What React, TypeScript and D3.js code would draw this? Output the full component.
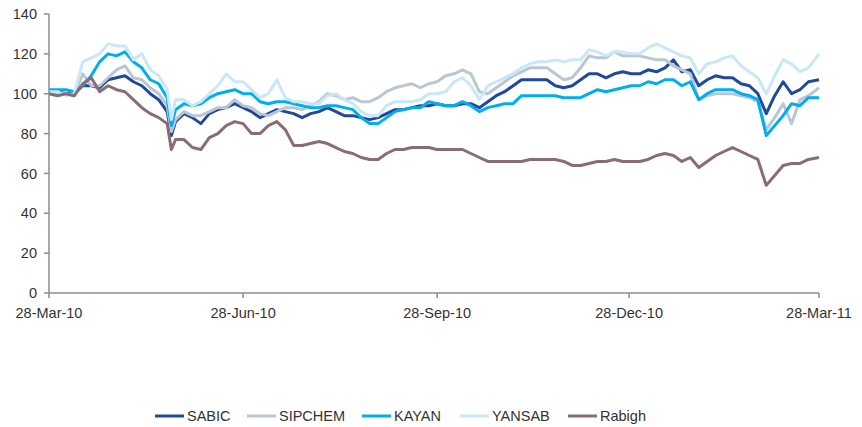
import React from "react";
import * as d3 from "d3";

const dayOffsets = [0,4,8,12,16,20,24,28,32,36,40,44,48,52,56,58,60,
64,68,72,76,80,84,88,92,96,100,104,108,112,116,120,124,
128,132,136,140,144,148,152,156,160,164,168,172,176,180,184,
188,192,196,200,204,208,212,216,220,224,228,232,236,240,244,248,
252,256,260,264,268,272,276,280,284,288,292,296,300,304,308,
312,316,320,324,328,332,336,340,344,348,352,356,360,365];

const SABIC = [101,101,100,100,104,104,103,107,108,109,106,104,100,97,91,79,86,
90,88,85,90,92,93,95,93,91,88,90,92,91,90,88,90,
91,93,91,89,89,88,87,88,90,92,92,93,94,94,95,
94,94,95,95,93,96,99,101,104,107,107,107,107,104,103,104,
107,110,110,108,110,111,110,110,112,111,113,117,111,112,104,
107,109,108,108,105,104,100,90,99,106,100,102,106,107];

const SIPCHEM = [100,100,100,99,110,104,104,108,112,114,108,107,103,100,94,81,87,
91,89,89,91,93,93,97,94,93,90,89,91,93,93,92,94,
96,100,99,97,98,96,96,98,101,103,104,105,103,105,106,
109,110,112,110,101,100,103,106,109,111,113,113,113,110,107,108,
113,119,118,118,121,119,119,119,118,117,117,114,112,110,97,
99,100,100,100,99,98,96,82,88,95,85,97,99,103];

const KAYAN = [102,102,102,101,104,109,116,120,119,121,116,113,107,105,98,84,92,
95,94,95,98,100,101,102,100,100,96,95,96,96,95,94,93,
93,94,94,93,92,88,85,85,88,91,92,93,93,96,95,
94,94,96,94,91,93,94,95,95,99,99,99,99,99,98,98,
98,100,102,101,102,103,104,104,106,105,107,107,104,106,97,
100,102,102,102,100,99,97,79,84,89,95,94,98,98];

const YANSAB = [101,101,99,100,116,118,120,125,124,124,117,120,112,109,102,87,97,
97,94,96,100,104,110,106,106,102,98,100,107,98,96,96,95,
95,99,100,97,95,91,89,89,94,96,96,96,97,100,100,
101,106,108,104,97,104,106,108,110,113,115,116,116,117,116,117,
117,122,121,119,121,121,120,120,123,125,123,121,119,118,110,
115,116,118,119,114,111,108,100,109,117,115,111,113,120];

const Rabigh = [100,99,100,99,105,108,101,104,102,101,97,93,90,88,85,72,77,
77,73,72,78,80,84,86,85,80,80,84,86,82,74,74,75,
76,75,73,71,70,68,67,67,70,72,72,73,73,73,72,
72,72,72,70,68,66,66,66,66,66,67,67,67,67,66,64,
64,65,66,66,67,66,66,66,67,69,70,69,66,68,63,
66,69,71,73,71,69,67,54,59,64,65,65,67,68];

const seriesNames = ["SABIC", "SIPCHEM", "KAYAN", "YANSAB", "Rabigh"];
const seriesValues = [SABIC, SIPCHEM, KAYAN, YANSAB, Rabigh];
const seriesColors = ["#1F4A9C", "#B9C7D2", "#00AEEF", "#C8E7F8", "#8A6C75"];

const xTickDates = ["2010-03-28", "2010-06-28", "2010-09-28", "2010-12-28", "2011-03-28"];
const xTickLabels = ["28-Mar-10", "28-Jun-10", "28-Sep-10", "28-Dec-10", "28-Mar-11"];
const yTicks = [0, 20, 40, 60, 80, 100, 120, 140];

const startDate = new Date(2010, 2, 28);
const dates = dayOffsets.map((d) => d3.timeDay.offset(startDate, d));

export default function App() {
  const W = 862, H = 427;
  const left = 49, right = 819, top = 14, bottom = 293;
  const x = d3.scaleTime().domain([new Date(2010, 2, 28), new Date(2011, 2, 28)]).range([left, right]);
  const y = d3.scaleLinear().domain([0, 140]).range([bottom, top]);
  const line = d3.line<number>().x((_, i) => x(dates[i])).y((v) => y(v));
  const axisColor = "#8C8C8C";
  const font = "Liberation Sans, Arial, sans-serif";
  const textColor = "#333333";
  const fs = 14.5;

  const legendX = [155, 247, 362, 460, 568];

  return (
    <svg width={W} height={H} style={{ position: "absolute", left: 0, top: 0, background: "#fff" }} fontFamily={font}>
      {seriesValues.map((vals, si) => (
        <path key={seriesNames[si]} d={line(vals) || ""} fill="none" stroke={seriesColors[si]} strokeWidth={3} strokeLinejoin="round" />
      ))}
      {/* y axis */}
      <line x1={left} x2={left} y1={top} y2={bottom} stroke={axisColor} strokeWidth={1.5} />
      {yTicks.map((t) => (
        <g key={t}>
          <line x1={left - 5} x2={left} y1={y(t)} y2={y(t)} stroke={axisColor} strokeWidth={1.5} />
          <text x={37} y={y(t)} dy="0.35em" textAnchor="end" fontSize={fs} fill={textColor}>{t}</text>
        </g>
      ))}
      {/* x axis */}
      <line x1={left} x2={right} y1={bottom} y2={bottom} stroke={axisColor} strokeWidth={1.5} />
      {xTickDates.map((d, i) => {
        const px = x(new Date(d + "T00:00:00"));
        return (
          <g key={d}>
            <line x1={px} x2={px} y1={bottom} y2={bottom + 5} stroke={axisColor} strokeWidth={1.5} />
            <text x={px} y={bottom + 25} textAnchor="middle" fontSize={fs} fill={textColor}>{xTickLabels[i]}</text>
          </g>
        );
      })}
      {/* legend */}
      {seriesNames.map((n, i) => (
        <g key={n}>
          <line x1={legendX[i]} x2={legendX[i] + 29} y1={416} y2={416} stroke={seriesColors[i]} strokeWidth={3} />
          <text x={legendX[i] + 32} y={416} dy="0.35em" fontSize={fs} fill={textColor}>{n}</text>
        </g>
      ))}
    </svg>
  );
}
